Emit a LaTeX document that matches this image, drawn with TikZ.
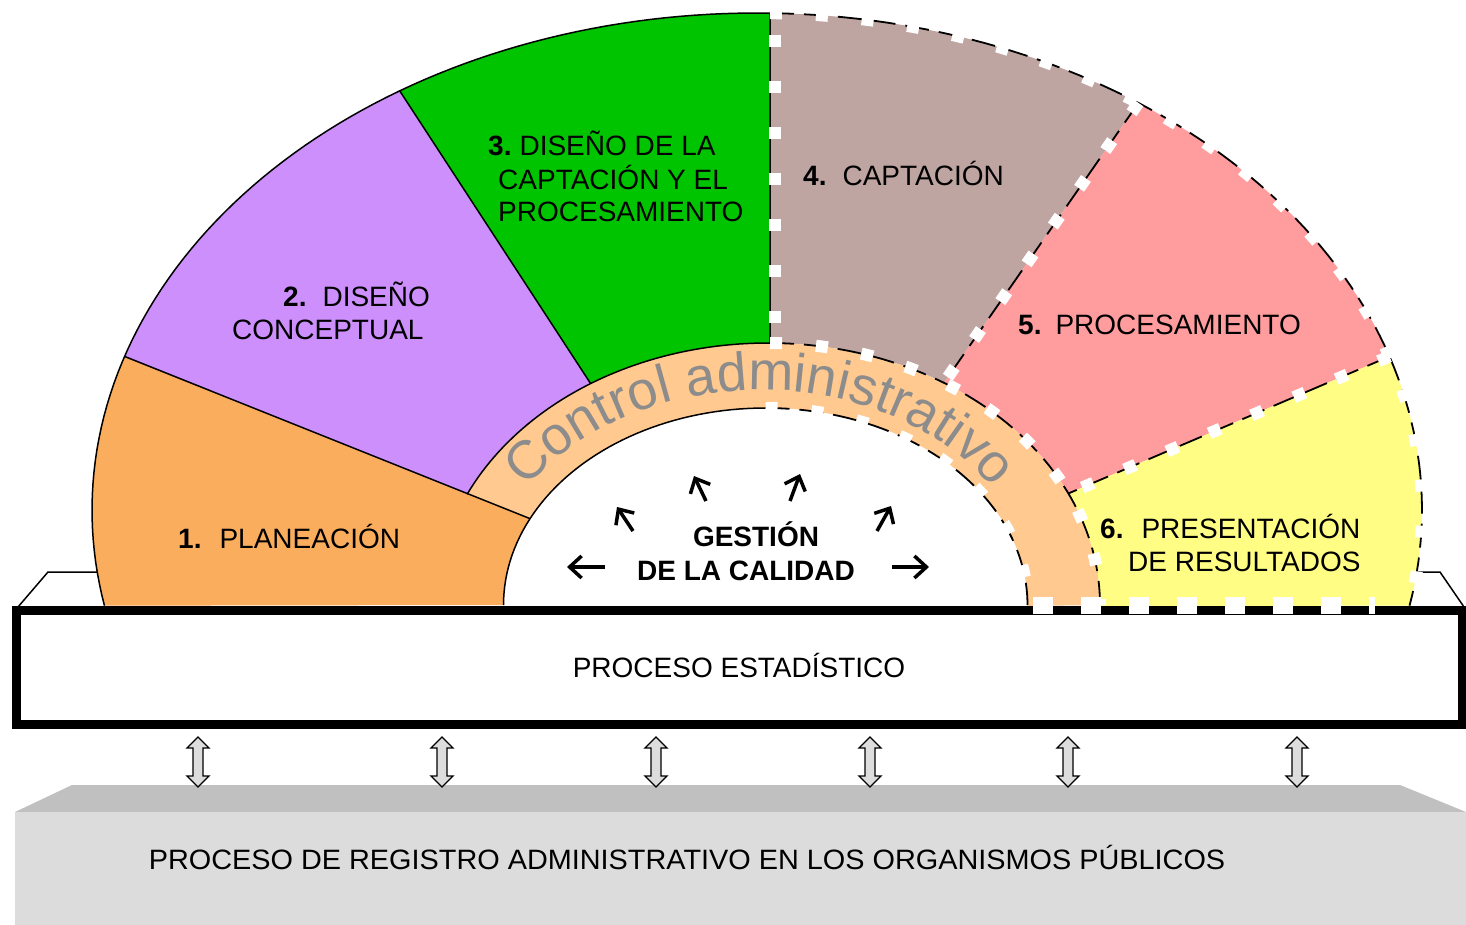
\documentclass[tikz,border=0pt]{standalone}
\usepackage{fontspec}
\setmainfont{Liberation Sans}
\usetikzlibrary{decorations.text,arrows.meta}
\definecolor{cOne}{HTML}{FBAD5E}
\definecolor{cTwo}{HTML}{CC8FFC}
\definecolor{cThree}{HTML}{00C400}
\definecolor{cFour}{HTML}{BFA5A1}
\definecolor{cFive}{HTML}{FF9C9E}
\definecolor{cSix}{HTML}{FFFD84}
\definecolor{cBand}{HTML}{FFC990}
\definecolor{cCtrl}{HTML}{8C8C8C}
\definecolor{cTop}{HTML}{C0C0C0}
\definecolor{cFront}{HTML}{DCDCDC}
\definecolor{cDarr}{HTML}{DDDDDD}
% outer ellipse, band ellipse, white ellipse (pixel frame, y down)
\newcommand{\ox}[1]{757+665*cos(#1)}
\newcommand{\oy}[1]{510-497*sin(#1)}
\newcommand{\bx}[1]{768+332*cos(#1)}
\newcommand{\by}[1]{605-262*sin(#1)}
\newcommand{\wx}[1]{765.5+262*cos(#1)}
\newcommand{\wy}[1]{605-197*sin(#1)}
\tikzset{
  sline/.style={draw=black, line width=1.5pt},
  bdash/.style={draw=black, line width=1.8pt, dash pattern=on 24pt off 10pt},
  wsq/.style={draw=white, line width=12pt, dash pattern=on 12pt off 34pt},
  lbl/.style={inner sep=0pt, anchor=base west, font=\fontsize{28}{33}\selectfont},
  lblc/.style={lbl, anchor=base},
  garrow/.style={line width=3.5pt, -{Straight Barb[length=12pt,width=22pt]}},
  dbl/.pic={\draw[fill=cDarr, line width=1.3pt] (0,-25) -- (11,-14) -- (5,-14) -- (5,14) -- (11,14) -- (0,25) -- (-11,14) -- (-5,14) -- (-5,-14) -- (-11,-14) -- cycle;}
}
\begin{document}
\begin{tikzpicture}[x=1pt,y=-1pt]
\useasboundingbox (0,0) rectangle (1466,925);
% ---------- base box (administrative registry) ----------
\fill[cTop] (15,812) -- (72,785) -- (1400,785) -- (1466,812) -- cycle;
\fill[cFront] (15,812) rectangle (1466,925);
\node[lblc] (reg) at (687,869) {\scalebox{1.03}[1]{PROCESO DE REGISTRO ADMINISTRATIVO EN LOS ORGANISMOS PÚBLICOS}};
\foreach \xx in {198,442,656,870,1068,1297} { \pic at (\xx,762) {dbl}; }
% ---------- top face of statistical process bar ----------
\draw[line width=1.5pt, fill=white] (18,607) -- (48,572) -- (1440,572) -- (1464,607);
% ---------- key coordinates ----------
\coordinate (o162) at ({\ox{162}},{\oy{162}});
\coordinate (o122) at ({\ox{122.5}},{\oy{122.5}});
\coordinate (o89) at ({\ox{88.88}},{\oy{88.88}});
\coordinate (o55) at ({\ox{55}},{\oy{55}});
\coordinate (o18) at ({\ox{18}},{\oy{18}});
\coordinate (b122) at ({\bx{122.3}},{\by{122.3}});
\coordinate (b89) at ({\bx{89.65}},{\by{89.65}});
\coordinate (b58) at ({\bx{58}},{\by{58}});
\coordinate (b25) at ({\bx{25.2}},{\by{25.2}});
\coordinate (w154) at ({\wx{154}},{\wy{154}});
% ---------- sectors ----------
\fill[cOne] plot[domain=191.1:162, samples=40, variable=\t] ({\ox{\t}},{\oy{\t}})
  -- plot[domain=154:180, samples=30, variable=\t] ({\wx{\t}},{\wy{\t}}) -- cycle;
\fill[cTwo] plot[domain=162:122.5, samples=40, variable=\t] ({\ox{\t}},{\oy{\t}})
  -- plot[domain=122.3:155, samples=30, variable=\t] ({\bx{\t}},{\by{\t}}) -- cycle;
\fill[cThree] plot[domain=122.5:88.88, samples=40, variable=\t] ({\ox{\t}},{\oy{\t}})
  -- plot[domain=89.65:122.3, samples=30, variable=\t] ({\bx{\t}},{\by{\t}}) -- cycle;
\fill[cFour] plot[domain=88.88:55, samples=40, variable=\t] ({\ox{\t}},{\oy{\t}})
  -- plot[domain=58:89.65, samples=30, variable=\t] ({\bx{\t}},{\by{\t}}) -- cycle;
\fill[cFive] plot[domain=55:18, samples=40, variable=\t] ({\ox{\t}},{\oy{\t}})
  -- plot[domain=25.2:58, samples=30, variable=\t] ({\bx{\t}},{\by{\t}}) -- cycle;
\fill[cSix] plot[domain=18:-11.1, samples=40, variable=\t] ({\ox{\t}},{\oy{\t}})
  -- (1100,606) -- plot[domain=0:25.2, samples=30, variable=\t] ({\bx{\t}},{\by{\t}}) -- cycle;
\fill[cBand] plot[domain=155:0, samples=90, variable=\t] ({\bx{\t}},{\by{\t}})
  -- (1027.5,606) -- plot[domain=0:154, samples=80, variable=\t] ({\wx{\t}},{\wy{\t}}) -- cycle;
\fill[white] plot[domain=180:0, samples=90, variable=\t] ({\wx{\t}},{\wy{\t}}) -- cycle;
% ---------- solid boundaries (left half) ----------
\draw[sline] plot[domain=191.1:88.88, samples=80, variable=\t] ({\ox{\t}},{\oy{\t}});
\draw[sline] (o162) -- (w154);
\draw[sline] (o122) -- (b122);
\draw[sline] (o89) -- (b89);
\draw[sline] plot[domain=155:89.65, samples=50, variable=\t] ({\bx{\t}},{\by{\t}});
\draw[sline] plot[domain=180:90, samples=50, variable=\t] ({\wx{\t}},{\wy{\t}});
% ---------- dashed boundaries (right half) ----------
\draw[bdash] plot[domain=88.88:-11.1, samples=80, variable=\t] ({\ox{\t}},{\oy{\t}});
\draw[bdash] (o55) -- (b58);
\draw[bdash] (o18) -- (b25);
\draw[bdash] plot[domain=89.65:0, samples=60, variable=\t] ({\bx{\t}},{\by{\t}});
\draw[bdash] plot[domain=90:0, samples=60, variable=\t] ({\wx{\t}},{\wy{\t}});
\draw[wsq] plot[domain=88.88:-11.1, samples=80, variable=\t] ({\ox{\t}},{\oy{\t}});
\draw[wsq] (o55) -- (b58);
\draw[wsq] (o18) -- (b25);
\draw[wsq] plot[domain=89.65:0, samples=60, variable=\t] ({\bx{\t}},{\by{\t}});
\draw[wsq] plot[domain=90:0, samples=60, variable=\t] ({\wx{\t}},{\wy{\t}});
\coordinate (s34a) at (775,35);
\coordinate (s34b) at (775,345);
\draw[wsq] (s34a) -- (s34b);
% ---------- curved label ----------
\path[decorate, decoration={text along path, text align=center, text color=cCtrl,
   text={|\fontsize{54}{54}\selectfont|Control administrativo}}]
   plot[domain=180:0, samples=120, variable=\t] ({760+278*cos(\t)},{605-215*sin(\t)});
% ---------- statistical process bar ----------
\node[draw=black, line width=9pt, fill=white, minimum width=1446pt, minimum height=114pt,
      inner sep=0pt, text height=20pt, text depth=0pt, font=\fontsize{28}{33}\selectfont]
      (bar) at (739,667.5) {PROCESO ESTADÍSTICO};
\coordinate (bq1) at (1033,605);
\coordinate (bq2) at (1375,605);
\draw[draw=white, line width=17pt, dash pattern=on 20pt off 28pt] (bq1) -- (bq2);
% ---------- sector labels ----------
\node[lbl] (t1) at (178,548) {\textbf{1.}\hspace{18pt}PLANEACIÓN};
\node[lbl] (t2a) at (283,306) {\textbf{2.}\hspace{16pt}DISEÑO};
\node[lbl] (t2b) at (232,339) {CONCEPTUAL};
\node[lbl] (t3a) at (488,156) {\textbf{3.}\hspace{8pt}DISEÑO DE LA};
\node[lbl] (t3b) at (498,190) {CAPTACIÓN Y EL};
\node[lbl] (t3c) at (498,222) {PROCESAMIENTO};
\node[lbl] (t4) at (803,186) {\textbf{4.}\hspace{16pt}CAPTACIÓN};
\node[lbl] (t5) at (1018,334) {\textbf{5.}\hspace{14pt}PROCESAMIENTO};
\node[lbl] (t6a) at (1100,538) {\textbf{6.}\hspace{18pt}PRESENTACIÓN};
\node[lbl] (t6b) at (1128,571) {DE RESULTADOS};
\node[lblc] (g1) at (756,546) {\textbf{GESTIÓN}};
\node[lblc] (g2) at (746,580) {\textbf{DE LA CALIDAD}};
% ---------- arrows of quality management ----------
\coordinate (a1s) at (633,531); \coordinate (a1e) at (617,507);
\coordinate (a2s) at (706,501); \coordinate (a2e) at (694,476);
\coordinate (a3s) at (790,501); \coordinate (a3e) at (800,474);
\coordinate (a4s) at (877,531); \coordinate (a4e) at (891,506);
\coordinate (a5s) at (605,567); \coordinate (a5e) at (567,567);
\coordinate (a6s) at (892,567); \coordinate (a6e) at (929,567);
\foreach \i in {1,...,6} { \draw[garrow] (a\i s) -- (a\i e); }
\end{tikzpicture}
\end{document}
